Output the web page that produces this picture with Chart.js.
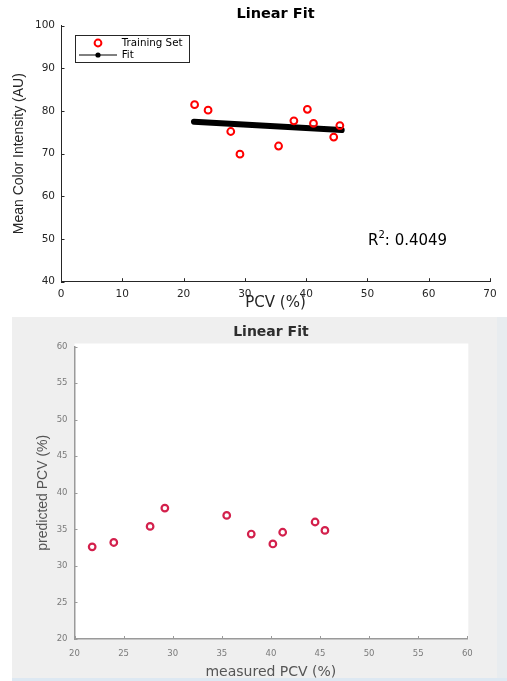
<!DOCTYPE html>
<html>
<head>
<meta charset="utf-8">
<title>Linear Fit</title>
<script src="https://cdn.jsdelivr.net/npm/chart.js@4.4.1/dist/chart.umd.min.js"></script>
<style>
    html, body { margin: 0; padding: 0; background: #fff; }
    #page { position: relative; width: 507px; height: 681px; overflow: hidden; }
    #topChart { position: absolute; left: 0; top: 0; }
    #bottomBg { position: absolute; left: 12px; top: 317px; width: 485px; height: 364px; background: #efefef; }
    #rightStrip { position: absolute; left: 497px; top: 317px; width: 10px; height: 364px; background: #e8ecef; }
    #bottomLine { position: absolute; left: 12px; top: 678px; width: 495px; height: 3px; background: #dde8f2; }
    #bottomChart { position: absolute; left: 0; top: 317px; }
</style>
</head>
<body>
<div id="page">
    <canvas id="topChart" width="507" height="317"></canvas>
    <div id="bottomBg"></div>
    <div id="rightStrip"></div>
    <div id="bottomLine"></div>
    <canvas id="bottomChart" width="507" height="364"></canvas>
</div>
<script>
// values
const measuredPCV = [21.8, 24.0, 27.7, 29.2, 35.5, 38.0, 40.2, 41.2, 44.5, 45.5];
const colorIntensity = [81.5, 80.2, 75.2, 69.9, 71.8, 77.7, 80.4, 77.1, 73.9, 76.6];
const fitPCV = [21.7, 45.8];
const fitIntensity = [77.5, 75.55];
const predictedPCV = [32.6, 33.2, 35.4, 37.9, 36.9, 34.35, 33.0, 34.6, 36.0, 34.85];

const topXRange = [0, 70, 10];
const topYRange = [40, 100, 10];
const bottomXRange = [20, 60, 5];
const bottomYRange = [20, 60, 5];

const r2Value = '0.4049';
const r2Pos = [50.1, 49.5];

function toPoints(xs, ys) {
    return xs.map((x, i) => ({x: x, y: ys[i]}));
}

// MATLAB style ticks that point into the axes
const innerTicks = {
    id: 'innerTicks',
    afterDraw(chart, args, opts) {
        const {ctx, chartArea: a, scales: {x, y}} = chart;
        ctx.save();
        ctx.strokeStyle = opts.color;
        ctx.lineWidth = opts.width;
        ctx.beginPath();
        x.ticks.forEach(t => {
            let px = Math.round(x.getPixelForValue(t.value)) + 0.5;
            ctx.moveTo(px, a.bottom);
            ctx.lineTo(px, a.bottom - opts.length);
        });
        y.ticks.forEach(t => {
            let py = Math.round(y.getPixelForValue(t.value)) + 0.5;
            ctx.moveTo(a.left, py);
            ctx.lineTo(a.left + opts.length, py);
        });
        ctx.stroke();
        ctx.restore();
    }
};

const plotTitle = {
    id: 'plotTitle',
    afterDraw(chart, args, opts) {
        const {ctx, chartArea: a} = chart;
        ctx.save();
        ctx.font = opts.font;
        ctx.fillStyle = opts.color;
        ctx.textAlign = 'center';
        ctx.textBaseline = 'middle';
        ctx.fillText(opts.text, (a.left + a.right) / 2, opts.y);
        ctx.restore();
    }
};

const plotBackground = {
    id: 'plotBackground',
    beforeDraw(chart, args, opts) {
        if (!opts.color) return;
        const {ctx, chartArea: a} = chart;
        ctx.save();
        ctx.fillStyle = opts.color;
        ctx.fillRect(a.left, a.top - 3, a.right - a.left + 1, a.bottom - a.top + 3);
        ctx.restore();
    }
};

const boxLegend = {
    id: 'boxLegend',
    afterDraw(chart, args, opts) {
        if (!opts.show) return;
        const {ctx, chartArea: a} = chart;
        const ds = chart.data.datasets;
        const bx = a.left + 13.7, by = a.top + 9.6;
        ctx.save();
        ctx.fillStyle = '#fff';
        ctx.fillRect(bx, by, 114, 27);
        ctx.strokeStyle = '#262626';
        ctx.lineWidth = 1;
        ctx.strokeRect(Math.round(bx) + 0.5, Math.round(by) + 0.5, 114, 27);

        // training set entry
        ctx.strokeStyle = ds[0].borderColor;
        ctx.lineWidth = ds[0].borderWidth;
        ctx.beginPath();
        ctx.arc(a.left + 37, a.top + 17.3, ds[0].pointRadius, 0, Math.PI * 2);
        ctx.stroke();

        // fit entry
        ctx.strokeStyle = '#000';
        ctx.lineWidth = 1;
        ctx.beginPath();
        ctx.moveTo(a.left + 18, a.top + 29.3);
        ctx.lineTo(a.left + 56, a.top + 29.3);
        ctx.stroke();
        ctx.fillStyle = '#000';
        ctx.beginPath();
        ctx.arc(a.left + 37, a.top + 29.3, 2.6, 0, Math.PI * 2);
        ctx.fill();

        ctx.font = '10.3px "DejaVu Sans"';
        ctx.textBaseline = 'middle';
        ctx.textAlign = 'left';
        ctx.fillText(ds[0].label, a.left + 60.7, a.top + 17.6);
        ctx.fillText(ds[1].label, a.left + 60.7, a.top + 29.6);
        ctx.restore();
    }
};

const r2Label = {
    id: 'r2Label',
    afterDraw(chart, args, opts) {
        if (!opts.show) return;
        const {ctx, scales: {x, y}} = chart;
        let px = x.getPixelForValue(r2Pos[0]);
        let py = y.getPixelForValue(r2Pos[1]);
        ctx.save();
        ctx.fillStyle = '#000';
        ctx.textBaseline = 'middle';
        ctx.textAlign = 'left';
        ctx.font = '15px "DejaVu Sans"';
        ctx.fillText('R', px, py);
        px += ctx.measureText('R').width;
        ctx.font = '10px "DejaVu Sans"';
        ctx.fillText('2', px, py - 6);
        px += ctx.measureText('2').width;
        ctx.font = '15px "DejaVu Sans"';
        ctx.fillText(': ' + r2Value, px, py);
        ctx.restore();
    }
};

Chart.register(innerTicks, plotTitle, plotBackground, boxLegend, r2Label);

function axis(range, pos, o) {
    return {
        type: 'linear',
        position: pos,
        min: range[0],
        max: range[1],
        ticks: {
            stepSize: range[2],
            color: o.tickColor,
            font: o.tickFont,
            padding: o.tickPad
        },
        grid: {drawOnChartArea: false, drawTicks: false, color: o.axisColor},
        border: {color: o.axisColor, width: o.axisWidth},
        title: {
            display: true,
            text: o.title,
            color: o.titleColor,
            font: o.titleFont,
            padding: o.titlePad
        },
        afterFit: o.fit
    };
}

// top chart: training set and fit
new Chart(document.getElementById('topChart'), {
    type: 'scatter',
    data: {
        datasets: [{
            label: 'Training Set',
            data: toPoints(measuredPCV, colorIntensity),
            borderColor: '#ff0000',
            backgroundColor: 'rgba(0,0,0,0)',
            borderWidth: 2,
            pointRadius: 3.4,
            pointHoverRadius: 3.4
        }, {
            label: 'Fit',
            type: 'line',
            data: toPoints(fitPCV, fitIntensity),
            borderColor: '#000',
            borderWidth: 6,
            borderCapStyle: 'round',
            pointRadius: 0,
            fill: false
        }]
    },
    options: {
        responsive: false,
        animation: false,
        layout: {padding: {top: 25.7, right: 17, bottom: 0, left: 0}},
        plugins: {
            legend: {display: false},
            tooltip: {enabled: false},
            innerTicks: {color: '#262626', width: 1, length: 3.5},
            plotTitle: {text: 'Linear Fit', font: 'bold 14.5px "DejaVu Sans"', color: '#000', y: 14.7},
            boxLegend: {show: true},
            r2Label: {show: true}
        },
        scales: {
            x: axis(topXRange, 'bottom', {
                tickColor: '#262626', tickFont: {family: 'DejaVu Sans', size: 10.5}, tickPad: 6,
                axisColor: '#262626', axisWidth: 1,
                title: 'PCV (%)', titleColor: '#262626',
                titleFont: {family: 'DejaVu Sans', size: 15}, titlePad: {top: 0, bottom: 5},
                fit: s => { s.height = 35.3; }
            }),
            y: axis(topYRange, 'left', {
                tickColor: '#262626', tickFont: {family: 'DejaVu Sans', size: 10.5}, tickPad: 6,
                axisColor: '#262626', axisWidth: 1,
                title: 'Mean Color Intensity (AU)', titleColor: '#262626',
                titleFont: {family: 'Liberation Sans', size: 14}, titlePad: {top: 10.6, bottom: 0},
                fit: s => { s.width = 61; }
            })
        }
    }
});

// bottom chart: predicted against measured
new Chart(document.getElementById('bottomChart'), {
    type: 'scatter',
    data: {
        datasets: [{
            label: 'predicted',
            data: toPoints(measuredPCV, predictedPCV),
            borderColor: '#d3204c',
            backgroundColor: '#ffffff',
            borderWidth: 2.2,
            pointRadius: 3.3,
            pointHoverRadius: 3.3
        }]
    },
    options: {
        responsive: false,
        animation: false,
        layout: {padding: {top: 29.5, right: 39.7, bottom: 0, left: 0}},
        plugins: {
            legend: {display: false},
            tooltip: {enabled: false},
            innerTicks: {color: '#9a9a9a', width: 1, length: 3},
            plotTitle: {text: 'Linear Fit', font: 'bold 14px "DejaVu Sans"', color: '#2e2e2e', y: 15.7},
            plotBackground: {color: '#ffffff'},
            boxLegend: {show: false},
            r2Label: {show: false}
        },
        scales: {
            x: axis(bottomXRange, 'bottom', {
                tickColor: '#7a7a7a', tickFont: {family: 'DejaVu Sans', size: 8.5}, tickPad: 10,
                axisColor: '#9a9a9a', axisWidth: 1.5,
                title: 'measured PCV (%)', titleColor: '#555',
                titleFont: {family: 'DejaVu Sans', size: 14}, titlePad: {top: 0, bottom: 0.6},
                fit: s => { s.height = 42; }
            }),
            y: axis(bottomYRange, 'left', {
                tickColor: '#7a7a7a', tickFont: {family: 'DejaVu Sans', size: 8.5}, tickPad: 7,
                axisColor: '#9a9a9a', axisWidth: 1.5,
                title: 'predicted PCV (%)', titleColor: '#555',
                titleFont: {family: 'Liberation Sans', size: 14}, titlePad: {top: 34.9, bottom: 0},
                fit: s => { s.width = 74.5; }
            })
        }
    }
});
</script>
</body>
</html>
